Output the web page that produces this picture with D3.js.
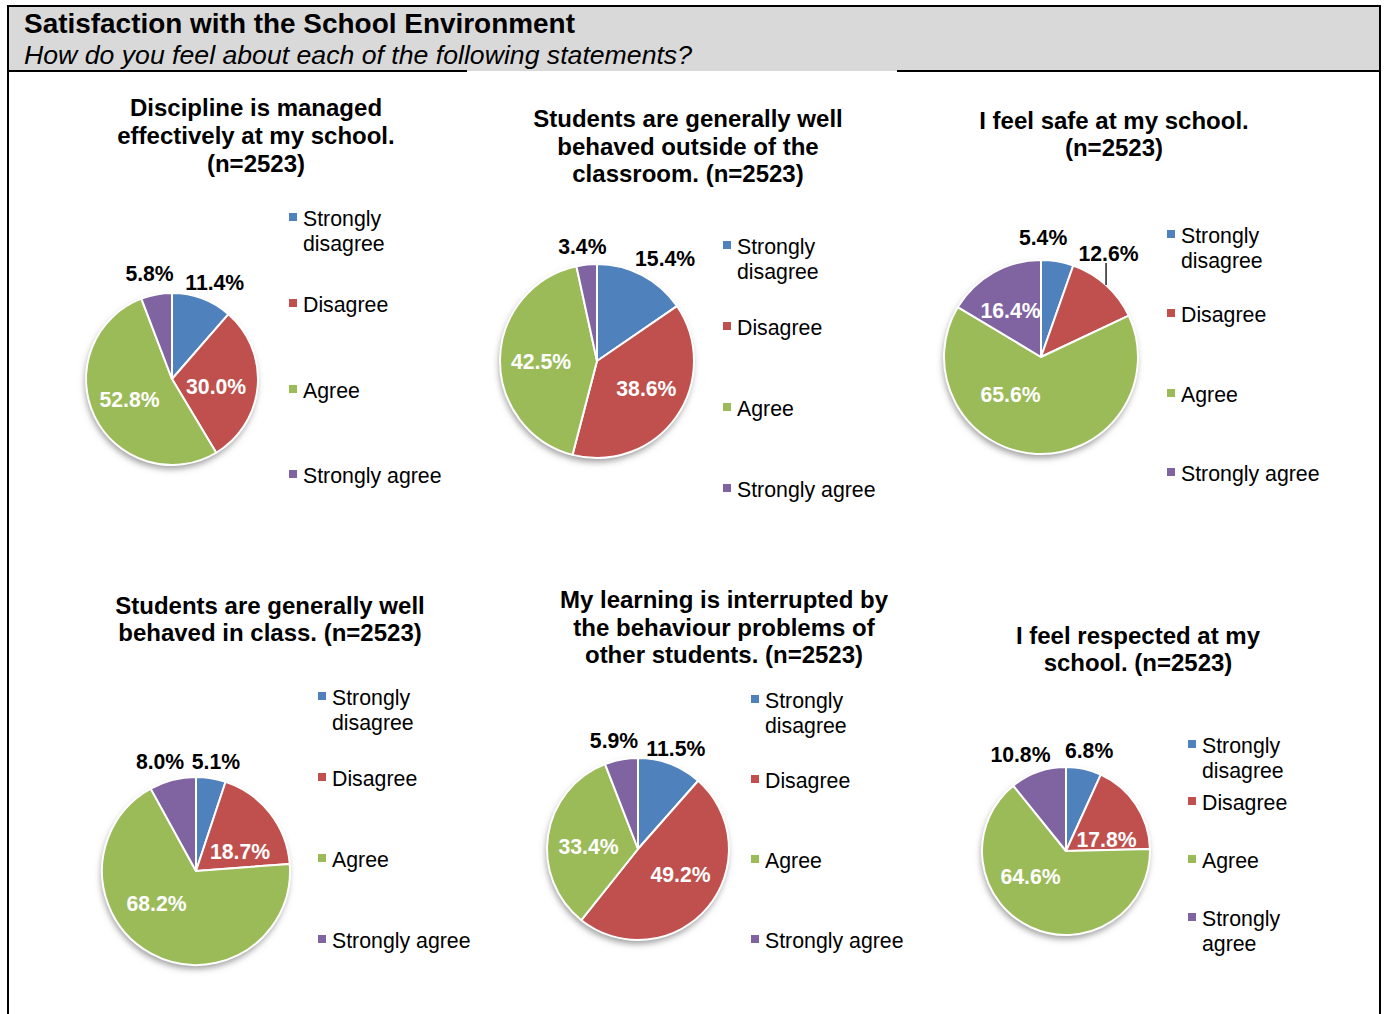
<!DOCTYPE html>
<html>
<head>
<meta charset="utf-8">
<script src="https://cdn.jsdelivr.net/npm/d3@7"></script>
<style>
  html, body { margin: 0; padding: 0; background: #fff; }
  svg { display: block; font-family: "Liberation Sans", Arial, Helvetica, sans-serif; }
</style>
</head>
<body>
<svg id="chart" width="1384" height="1014"></svg>
<script>
// Survey answer categories, in the order they appear clockwise from 12 o'clock
const categories = ["Strongly disagree", "Disagree", "Agree", "Strongly agree"];
const legendLines = [["Strongly", "disagree"], ["Disagree"], ["Agree"], ["Strongly agree"]];
const legendLinesNarrow = [["Strongly", "disagree"], ["Disagree"], ["Agree"], ["Strongly", "agree"]];
const colors = ["#4F81BD", "#C0504D", "#9BBB59", "#8064A2"];

// Statement titles (one entry per pie, lines as drawn)
const titles = [
  ["Discipline is managed", "effectively at my school.", "(n=2523)"],
  ["Students are generally well", "behaved outside of the", "classroom. (n=2523)"],
  ["I feel safe at my school.", "(n=2523)"],
  ["Students are generally well", "behaved in class. (n=2523)"],
  ["My learning is interrupted by", "the behaviour problems of", "other students. (n=2523)"],
  ["I feel respected at my", "school. (n=2523)"]
];

// Percentages per statement: Strongly disagree, Disagree, Agree, Strongly agree
const disciplineManaged   = [11.4, 30.0, 52.8, 5.8];
const behavedOutside      = [15.4, 38.6, 42.5, 3.4];
const feelSafe            = [5.4, 12.6, 65.6, 16.4];
const behavedInClass      = [5.1, 18.7, 68.2, 8.0];
const learningInterrupted = [11.5, 49.2, 33.4, 5.9];
const feelRespected       = [6.8, 17.8, 64.6, 10.8];
const seriesValues = [disciplineManaged, behavedOutside, feelSafe, behavedInClass, learningInterrupted, feelRespected];

// Panel layout: pie centre/radius, title centre, legend placement, label nudges
const panels = [
  { cx: 172, cy: 379, r: 86, tx: 256, ty: [107, 135, 163],
    lx: 289, ly: [219, 305, 391, 476], legend: legendLines,
    nudge: [[7, -1], [-3, 3], [0, 0], [-4, -5]] },
  { cx: 597, cy: 361, r: 97, tx: 688, ty: [118, 146, 173],
    lx: 723, ly: [247, 328, 409, 490], legend: legendLines,
    nudge: [[15.5, -3], [5.7, -3.5], [-2.6, 1.9], [-2.6, -2.7]] },
  { cx: 1041, cy: 357, r: 97, tx: 1114, ty: [120, 147],
    lx: 1167, ly: [236, 315, 395, 474], legend: legendLines,
    nudge: [[-17, -8.6], [-8.2, -20.2], [-27.8, -16.3], [-4.2, -0.5]], leader: [1] },
  { cx: 196, cy: 871, r: 94, tx: 270, ty: [605, 632],
    lx: 318, ly: [698, 779, 860, 941], legend: legendLines,
    nudge: [[2.4, -1.4], [3.3, 11.8], [-14.9, -13.5], [-8.6, -3.4]] },
  { cx: 638, cy: 849, r: 91, tx: 724, ty: [599, 627, 654],
    lx: 751, ly: [701, 781, 861, 941], legend: legendLines,
    nudge: [[0, -1], [4.2, -7.1], [0, 4.5], [-4.3, -3.8]] },
  { cx: 1066, cy: 851, r: 84, tx: 1138, ty: [635, 662],
    lx: 1188, ly: [746, 803, 861, 919], legend: legendLinesNarrow,
    nudge: [[1.9, -3.3], [2, 13.5], [-16.1, -16.9], [-12.3, -2.7]] }
];

const svg = d3.select("#chart");

// Soft drop shadow under each pie
const defs = svg.append("defs");
const shadow = defs.append("filter").attr("id", "pieShadow")
  .attr("x", "-20%").attr("y", "-20%").attr("width", "140%").attr("height", "140%");
shadow.append("feGaussianBlur").attr("in", "SourceAlpha").attr("stdDeviation", 3).attr("result", "blur");
shadow.append("feOffset").attr("in", "blur").attr("dx", -1).attr("dy", 4).attr("result", "off");
shadow.append("feFlood").attr("flood-color", "#7f7f7f").attr("flood-opacity", 0.75).attr("result", "col");
shadow.append("feComposite").attr("in", "col").attr("in2", "off").attr("operator", "in");

// Header band and frame
svg.append("rect").attr("x", 8).attr("y", 6).attr("width", 1372).attr("height", 65).attr("fill", "#D9D9D9");
const frame = svg.append("g").attr("stroke", "#000").attr("stroke-width", 2).attr("fill", "none");
frame.append("line").attr("x1", 8).attr("y1", 6).attr("x2", 1380).attr("y2", 6);
frame.append("line").attr("x1", 8).attr("y1", 5).attr("x2", 8).attr("y2", 1014);
frame.append("line").attr("x1", 1380).attr("y1", 5).attr("x2", 1380).attr("y2", 1014);
frame.append("line").attr("x1", 8).attr("y1", 71).attr("x2", 467).attr("y2", 71);
frame.append("line").attr("x1", 897).attr("y1", 71).attr("x2", 1380).attr("y2", 71);

svg.append("text").attr("x", 24).attr("y", 33)
  .attr("font-size", 27).attr("font-weight", "bold").attr("fill", "#000")
  .attr("textLength", 551).attr("lengthAdjust", "spacingAndGlyphs")
  .text("Satisfaction with the School Environment");
svg.append("text").attr("x", 24).attr("y", 64)
  .attr("font-size", 26).attr("font-style", "italic").attr("fill", "#000")
  .attr("textLength", 668).attr("lengthAdjust", "spacingAndGlyphs")
  .text("How do you feel about each of the following statements?");

const pie = d3.pie().sort(null).value(d => d);

panels.forEach((p, i) => {
  const values = seriesValues[i];
  const g = svg.append("g");

  // Title
  const title = g.append("text").attr("text-anchor", "middle")
    .attr("font-size", 24).attr("font-weight", "bold").attr("fill", "#000");
  titles[i].forEach((line, k) => {
    title.append("tspan").attr("x", p.tx).attr("y", p.ty[k]).attr("dy", "0.36em").text(line);
  });

  const pg = g.append("g").attr("transform", `translate(${p.cx},${p.cy})`);
  pg.append("circle").attr("r", p.r).attr("fill", "#fff").attr("filter", "url(#pieShadow)");

  const arc = d3.arc().innerRadius(0).outerRadius(p.r);
  const arcs = pie(values);
  pg.selectAll("path.slice").data(arcs).join("path")
    .attr("class", "slice")
    .attr("d", arc)
    .attr("fill", (d, k) => colors[k])
    .attr("stroke", "#fff").attr("stroke-width", 2).attr("stroke-linejoin", "round");

  const inArc = d3.arc().innerRadius(p.r * 0.55).outerRadius(p.r * 0.55);
  const outArc = d3.arc().innerRadius(p.r + 16).outerRadius(p.r + 16);
  const edgeArc = d3.arc().innerRadius(p.r).outerRadius(p.r);

  arcs.forEach((d, k) => {
    const inside = d.data >= 16;
    const c = (inside ? inArc : outArc).centroid(d);
    const x = c[0] + p.nudge[k][0];
    const y = c[1] + p.nudge[k][1];
    if (p.leader && p.leader.includes(k)) {
      const e = edgeArc.centroid(d);
      pg.append("line").attr("x1", e[0]).attr("y1", e[1]).attr("x2", e[0]).attr("y2", y + 10)
        .attr("stroke", "#000").attr("stroke-width", 1.3);
    }
    pg.append("text").attr("x", x).attr("y", y).attr("dy", "0.36em")
      .attr("text-anchor", "middle").attr("font-size", 21.2).attr("font-weight", "bold")
      .attr("fill", inside ? "#fff" : "#000")
      .text(d3.format(".1f")(d.data) + "%");
  });

  // Legend
  const lg = g.append("g");
  categories.forEach((cat, k) => {
    lg.append("rect").attr("x", p.lx).attr("y", p.ly[k] - 6).attr("width", 8).attr("height", 8)
      .attr("fill", colors[k]);
    const t = lg.append("text").attr("font-size", 21.3).attr("fill", "#000");
    p.legend[k].forEach((line, j) => {
      t.append("tspan").attr("x", p.lx + 14).attr("y", p.ly[k] - 0.5 + j * 24.5).attr("dy", "0.36em").text(line);
    });
  });
});
</script>
</body>
</html>
